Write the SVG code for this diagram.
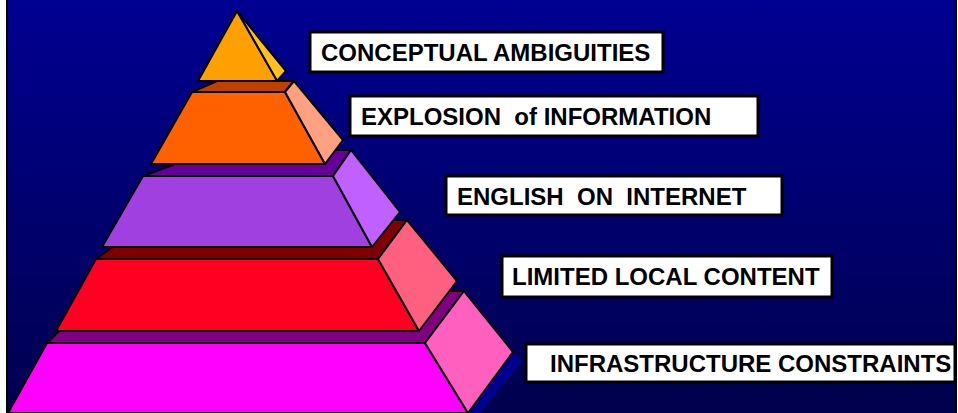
<svg xmlns="http://www.w3.org/2000/svg" width="958" height="413" viewBox="0 0 958 413">
<defs>
<linearGradient id="bg" x1="0" y1="0" x2="0" y2="1">
<stop offset="0" stop-color="#000092"/>
<stop offset="1" stop-color="#00004e"/>
</linearGradient>
</defs>
<style>
.f{stroke:#000;stroke-width:2;stroke-linejoin:round}
.box{fill:#fff;stroke:#000;stroke-width:3}
.lbl{font-family:"Liberation Sans",Arial,sans-serif;font-weight:bold;font-size:24px;fill:#000;white-space:pre}
</style>
<rect x="0" y="0" width="958" height="413" fill="#fff"/>
<rect x="7" y="0" width="949" height="413" fill="url(#bg)"/>
<line x1="7" y1="0" x2="7" y2="413" stroke="#000" stroke-width="2"/>
<line x1="956" y1="0" x2="956" y2="413" stroke="#000" stroke-width="2"/>

<g id="tier5">
<polygon points="513,352 522,361 480,413 468,413" fill="#000090"/>
<polygon class="f" points="47,343 100,291 464,291 425,343" fill="#800080"/>
<polygon class="f" points="47,343 425,343 468,413 8,413" fill="#ff00ff"/>
<polygon class="f" points="425,343 464,291 513,352 468,413" fill="#ff60c0"/>
</g>
<g id="tier4">
<polygon class="f" points="96,259 150,220 407,220 378,259" fill="#800000"/>
<polygon class="f" points="96,259 378,259 419,331 56,331" fill="#ff0022"/>
<polygon class="f" points="378,259 407,220 457,281 419,331" fill="#ff6080"/>
</g>
<g id="tier3">
<polygon class="f" points="143,176 213,150 351,150 333,176" fill="#660099"/>
<polygon class="f" points="143,176 333,176 372,247 102,247" fill="#a040e0"/>
<polygon class="f" points="333,176 351,150 400,212 372,247" fill="#c060ff"/>
</g>
<g id="tier2">
<polygon class="f" points="192,92 217,81 294,81 285,92" fill="#c04000"/>
<polygon class="f" points="192,92 285,92 325,164 151,164" fill="#ff6000"/>
<polygon class="f" points="285,92 294,81 343,140 325,164" fill="#ffa080"/>
</g>
<g id="tier1">
<polygon class="f" points="237,11 286,71 277,81" fill="#ffc020"/>
<polygon class="f" points="237,11 277,81 198,81" fill="#ffa000"/>
</g>

<g id="label1">
<rect class="box" x="310" y="32" width="353" height="40"/>
<text class="lbl" x="321" y="61">CONCEPTUAL AMBIGUITIES</text>
</g>
<g id="label2">
<rect class="box" x="350" y="96" width="408" height="40"/>
<text class="lbl" x="361" y="125">EXPLOSION  of INFORMATION</text>
</g>
<g id="label3">
<rect class="box" x="446" y="176" width="336" height="39"/>
<text class="lbl" x="457" y="205">ENGLISH  ON  INTERNET</text>
</g>
<g id="label4">
<rect class="box" x="502" y="256" width="330" height="41"/>
<text class="lbl" x="512" y="285">LIMITED LOCAL CONTENT</text>
</g>
<g id="label5">
<rect class="box" x="526" y="344" width="429" height="38"/>
<text class="lbl" x="550" y="372">INFRASTRUCTURE CONSTRAINTS</text>
</g>
</svg>
